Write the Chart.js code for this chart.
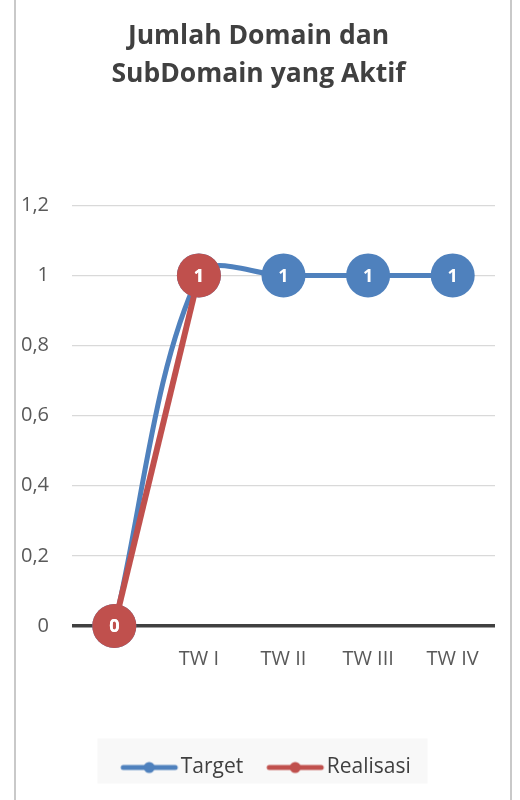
<!DOCTYPE html>
<html>
<head>
<meta charset="utf-8">
<script src="https://cdn.jsdelivr.net/npm/chart.js@4"></script>
<style>
  html, body { margin: 0; padding: 0; background: #fff; overflow: hidden; }
  #frame {
    position: absolute; left: 14px; top: -4px; width: 494px; height: 806px;
    border-left: 2px solid #c9c9c9; border-right: 2px solid #c9c9c9;
  }
  #wrap { position: absolute; left: 0; top: 0; width: 520px; height: 800px; }
</style>
</head>
<body>
<div id="frame"></div>
<div id="wrap"><canvas id="chart" width="520" height="800"></canvas></div>
<script>
// Data
const categories = ["", "TW I", "TW II", "TW III", "TW IV"];
const targetValues = [0, 1, 1, 1, 1];
const realisasiValues = [0, 1, null, null, null];
const yMax = 1.2;
const yStep = 0.2;

const BLUE = "#4f81bd";
const RED = "#c0504d";
const FONT = "'Open Sans', 'Noto Sans', sans-serif";

// legend marker: line with a dot, right-aligned in the image so text sits close
function legendMarker(color) {
  const c = document.createElement("canvas");
  c.width = 70; c.height = 14;
  const g = c.getContext("2d");
  g.strokeStyle = color; g.lineWidth = 5; g.lineCap = "round";
  g.beginPath(); g.moveTo(13, 7); g.lineTo(65, 7); g.stroke();
  g.fillStyle = color;
  g.beginPath(); g.arc(39, 7, 5.5, 0, Math.PI * 2); g.fill();
  return c;
}

// value labels inside the circles
const valueLabels = {
  id: "valueLabels",
  afterDatasetsDraw(chart) {
    const ctx = chart.ctx;
    ctx.save();
    ctx.font = "bold 18px " + FONT;
    ctx.fillStyle = "#fff";
    ctx.textAlign = "center";
    ctx.textBaseline = "middle";
    [0, 1].forEach(i => {
      const meta = chart.getDatasetMeta(i);
      meta.data.forEach((pt, j) => {
        const v = chart.data.datasets[i].data[j];
        if (v === null || v === undefined) return;
        ctx.fillText(String(v), pt.x, pt.y + 1);
      });
    });
    ctx.restore();
  }
};

// light background behind the legend, and nudge legend to the right a bit
const legendBox = {
  id: "legendBox",
  afterLayout(chart) {
    chart.legend.left += 7;
    chart.legend.right += 7;
  },
  beforeDraw(chart) {
    const l = chart.legend;
    if (!l) return;
    const ctx = chart.ctx;
    ctx.save();
    ctx.fillStyle = "#f8f8f8";
    const w = 330, h = 45;
    const cx = 262.5;
    ctx.fillRect(cx - w / 2, l.top + l.height / 2 - h / 2, w, h);
    ctx.restore();
  }
};

new Chart(document.getElementById("chart"), {
  type: "line",
  data: {
    labels: categories,
    datasets: [
      {
        label: "Target",
        data: targetValues,
        borderColor: BLUE,
        backgroundColor: BLUE,
        borderWidth: 5,
        tension: 0.33,
        clip: false,
        pointRadius: 22,
        pointHoverRadius: 22,
        pointBackgroundColor: BLUE,
        pointBorderWidth: 0,
        order: 1
      },
      {
        label: "Realisasi",
        data: realisasiValues,
        borderColor: RED,
        backgroundColor: RED,
        borderWidth: 6,
        tension: 0,
        clip: false,
        pointRadius: 22,
        pointHoverRadius: 22,
        pointBackgroundColor: RED,
        pointBorderWidth: 0,
        order: 0
      }
    ]
  },
  options: {
    responsive: false,
    animation: false,
    events: [],
    layout: { padding: { left: 22, right: 25, top: 18, bottom: 12 } },
    scales: {
      x: {
        offset: true,
        grid: { display: false },
        border: { display: false },
        ticks: { color: "#595959", font: { family: FONT, size: 20 }, padding: 13 },
        afterFit: s => { s.height = 108; }
      },
      y: {
        min: 0,
        max: yMax,
        border: { display: false },
        grid: {
          drawTicks: false,
          color: ctx => ctx.tick && ctx.tick.value === 0 ? "#404040" : "#d9d9d9",
          lineWidth: ctx => ctx.tick && ctx.tick.value === 0 ? 3.5 : 1.2
        },
        ticks: {
          stepSize: yStep,
          color: "#595959",
          font: { family: FONT, size: 20 },
          padding: 23,
          callback: v => String(Math.round(v * 10) / 10).replace(".", ",")
        },
        afterFit: s => { s.width = 50; }
      }
    },
    plugins: {
      title: {
        display: true,
        text: ["Jumlah Domain dan", "SubDomain yang Aktif"],
        color: "#404040",
        font: { family: FONT, size: 26.5, weight: "bold", lineHeight: 1.42 },
        padding: { top: 0, bottom: 112 }
      },
      legend: {
        position: "bottom",
        labels: {
          usePointStyle: true,
          pointStyleWidth: 50,
          color: "#404040",
          font: { family: FONT, size: 21 },
          padding: 23,
          generateLabels: chart => chart.data.datasets.map((ds, i) => ({
            text: ds.label,
            pointStyle: legendMarker(ds.borderColor),
            fillStyle: ds.borderColor,
            strokeStyle: ds.borderColor,
            lineWidth: 0,
            fontColor: "#404040",
            datasetIndex: i,
            hidden: false
          }))
        }
      },
      tooltip: { enabled: false }
    }
  },
  plugins: [legendBox, valueLabels]
});
</script>
</body>
</html>
